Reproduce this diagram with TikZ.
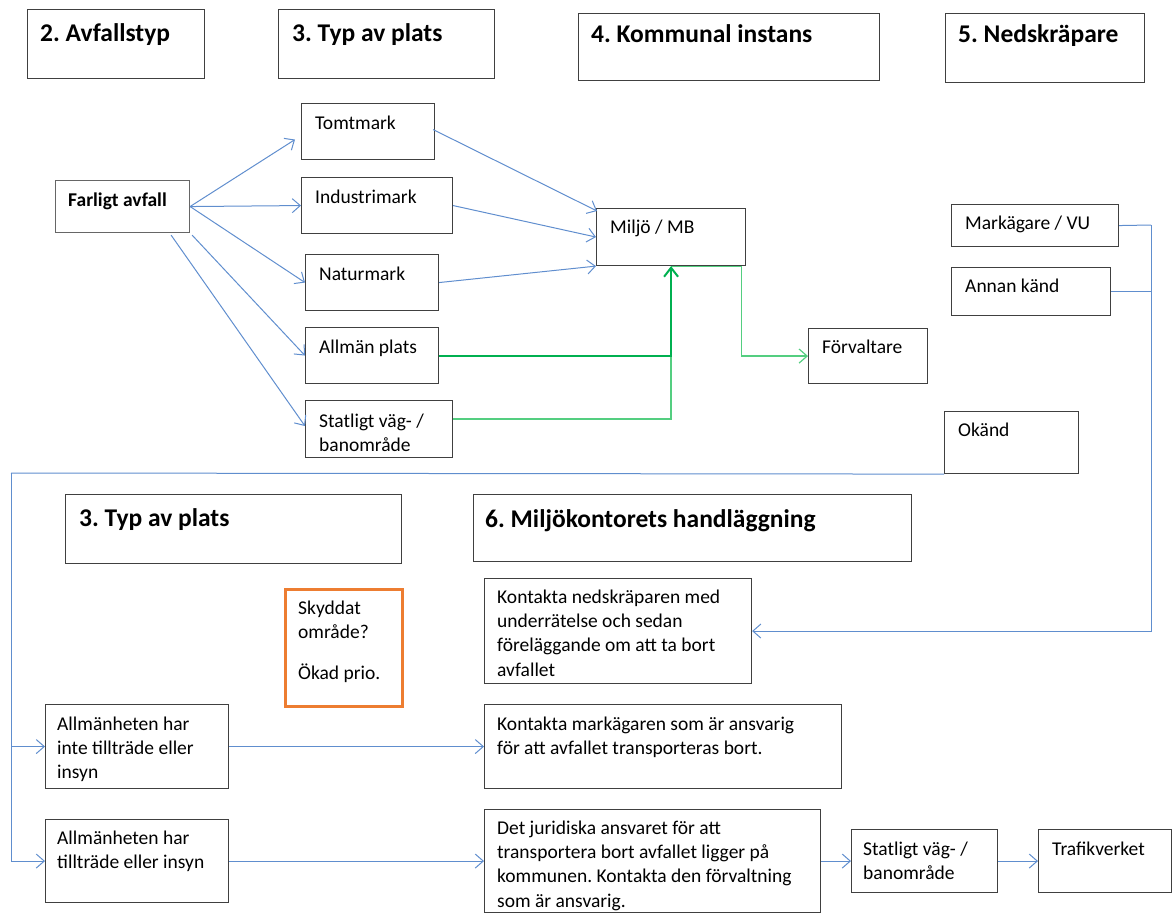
\documentclass[tikz,border=0pt]{standalone}
\usepackage{fontspec}
\setmainfont{Carlito}
\usetikzlibrary{arrows.meta,calc}
\definecolor{lnblue}{RGB}{96,142,206}
\definecolor{boxgray}{RGB}{64,64,64}
\definecolor{gdark}{RGB}{0,176,80}
\definecolor{glight}{RGB}{84,206,128}
\definecolor{orng}{RGB}{237,125,49}
\frenchspacing
\newcommand\mkbox[6][]{\node[bx,#1,minimum width=#5pt,minimum height=#6pt] (#2) at (#3,#4) {};}
\begin{document}
\begin{tikzpicture}[x=1pt,y=-1pt,
  bx/.style={draw=boxgray,line width=1.1pt,inner sep=0pt,anchor=north west},
  txt/.style={anchor=base west,inner sep=0pt,font=\fontsize{19.5}{24.4}\selectfont,text=black},
  hd/.style={anchor=base west,inner sep=0pt,font=\fontsize{25.5}{30}\selectfont\bfseries,text=black},
  bl/.style={draw=lnblue,line width=1pt,-{Straight Barb[length=8pt,width=14pt]}},
  blplain/.style={draw=lnblue,line width=1pt},
  gthick/.style={draw=gdark,line width=2pt,-{Straight Barb[length=9pt,width=14pt]}},
  gthin/.style={draw=glight,line width=1.2pt},
  gthinarr/.style={draw=glight,line width=1.2pt,-{Straight Barb[length=8pt,width=14pt]}}]
\useasboundingbox (0,0) rectangle (1172,913);
% headers
\mkbox{h2}{27}{9}{177}{69}
\mkbox{h3}{278}{9}{216}{69}
\mkbox{h4}{578}{13}{301}{67}
\mkbox{h5}{945}{13}{199}{69}
\mkbox{h3b}{65}{494}{336}{69}
\mkbox{h6}{473}{494}{438}{67}
\node[hd] (h2t) at ($(h2.north west)+(13,32)$) {2. Avfallstyp};
\node[hd] (h3t) at ($(h3.north west)+(14,32)$) {3. Typ av plats};
\node[hd] (h4t) at ($(h4.north west)+(13,29)$) {4. Kommunal instans};
\node[hd] (h5t) at ($(h5.north west)+(13,29)$) {5. Nedskräpare};
\node[hd] (h3bt) at ($(h3b.north west)+(14,32)$) {3. Typ av plats};
\node[hd] (h6t) at ($(h6.north west)+(12,33)$) {6. Miljökontorets handläggning};
% upper boxes
\mkbox[draw=boxgray!80]{farl}{55}{180}{134}{52}
\mkbox{tomt}{301}{103}{133}{56}
\mkbox{indu}{301}{177}{151}{56}
\mkbox{natu}{305}{254}{133}{56}
\mkbox{allm}{305}{327}{133}{56}
\mkbox{stat}{305}{400}{147}{57}
\mkbox{milj}{596}{208}{149}{57}
\mkbox{forv}{808}{328}{119}{55}
\mkbox{mark}{951}{204}{167}{42}
\mkbox{anna}{951}{267}{159}{48}
\mkbox{okan}{944}{411}{134}{62}
\node[txt,font=\fontsize{19.5}{24.4}\selectfont\bfseries] (farlt) at ($(farl.north west)+(13,26)$) {Farligt avfall};
\node[txt] (tomtt) at ($(tomt.north west)+(14,26)$) {Tomtmark};
\node[txt] (indut) at ($(indu.north west)+(14,26)$) {Industrimark};
\node[txt] (natut) at ($(natu.north west)+(14,26)$) {Naturmark};
\node[txt] (allmt) at ($(allm.north west)+(14,26)$) {Allmän plats};
\node[txt] (statt) at ($(stat.north west)+(14,27)$) {\parbox[t]{200pt}{Statligt väg- /\\banområde}};
\node[txt] (miljt) at ($(milj.north west)+(14,25)$) {Miljö / MB};
\node[txt] (forvt) at ($(forv.north west)+(14,25)$) {Förvaltare};
\node[txt] (markt) at ($(mark.north west)+(14,25)$) {Markägare / VU};
\node[txt] (annat) at ($(anna.north west)+(14,25)$) {Annan känd};
\node[txt] (okant) at ($(okan.north west)+(14,25)$) {Okänd};
% lower boxes
\node[bx,draw=orng,line width=3pt,minimum width=117pt,minimum height=117pt] (skyd) at (284,588) {};
\node[txt] (skydt) at ($(skyd.north west)+(14,26)$) {\parbox[t]{100pt}{Skyddat\\område?\\[17pt]Ökad prio.}};
\mkbox{alla}{45}{704}{183}{84}
\mkbox{allb}{45}{819}{183}{83}
\mkbox{kon1}{484}{578}{267}{105}
\mkbox{kon2}{484}{704}{357}{84}
\mkbox{juri}{484}{809}{336}{103}
\mkbox{stal}{851}{829}{146}{63}
\mkbox{traf}{1038}{829}{133}{63}
\node[txt] (allat) at ($(alla.north west)+(12,26)$) {\parbox[t]{170pt}{Allmänheten har\\inte tillträde eller\\insyn}};
\node[txt] (allbt) at ($(allb.north west)+(12,25)$) {\parbox[t]{170pt}{Allmänheten har\\tillträde eller insyn}};
\node[txt] (kon1t) at ($(kon1.north west)+(13,25)$) {\parbox[t]{260pt}{Kontakta nedskräparen med\\underrätelse och sedan\\föreläggande om att ta bort\\avfallet}};
\node[txt] (kon2t) at ($(kon2.north west)+(13,26)$) {\parbox[t]{350pt}{Kontakta markägaren som är ansvarig\\för att avfallet transporteras bort.}};
\node[txt] (jurit) at ($(juri.north west)+(13,25)$) {\parbox[t]{330pt}{Det juridiska ansvaret för att\\transportera bort avfallet ligger på\\kommunen. Kontakta den förvaltning\\som är ansvarig.}};
\node[txt] (stalt) at ($(stal.north west)+(12,26)$) {\parbox[t]{140pt}{Statligt väg- /\\banområde}};
\node[txt] (traft) at ($(traf.north west)+(14,26)$) {Trafikverket};
% connectors from Farligt avfall
\draw[bl] (farl.east) -- ($(tomt.west)+(-6,8)$);
\draw[bl] (farl.east) -- (indu.west);
\draw[bl] (farl.east) -- (natu.west);
\draw[bl] ($(farl.south east)+(2,2)$) -- (allm.west);
\draw[bl] ($(farl.south east)+(-19,2)$) -- ($(stat.west)+(0,-3)$);
% to Miljö / MB
\draw[bl] ($(tomt.east)+(-2,-2)$) -- ($(milj.north west)+(1,3)$);
\draw[bl] (indu.east) -- (milj.west);
\draw[bl] (natu.east) -- (milj.south west);
% green
\draw[gthin] ($(stat.east)+(0,-10)$) -| (allm.east -| milj.south);
\draw[gthin] (milj.south) -- ($(milj.south east)+(-5,0)$);
\draw[gthinarr] ($(milj.south east)+(-5,0)$) |- (forv.west);
\draw[gthick] (allm.east) -| (milj.south);
% right side
\coordinate (rc) at (1151,225);
\draw[blplain] (mark.east) -- (rc);
\draw[blplain] (anna.east) -- (anna.east -| rc);
\draw[bl] (rc) |- (kon1.east);
% Okänd loop
\coordinate (lc) at (11,473);
\draw[blplain] (okan.south west) -- (lc);
\draw[bl] (lc) |- (allb.west);
\draw[bl] (lc |- alla.west) -- (alla.west);
% lower horizontals
\draw[bl] (alla.east) -- (kon2.west);
\draw[bl] (allb.east) -- (juri.west);
\draw[bl] (juri.east) -- (stal.west);
\draw[bl] (stal.east) -- (traf.west);
\end{tikzpicture}
\end{document}
